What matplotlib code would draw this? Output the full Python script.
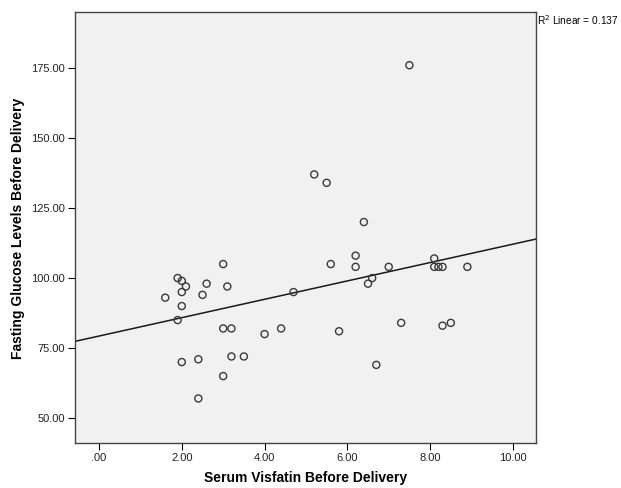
import matplotlib.pyplot as plt
import numpy as np

# data
visfatin = [3.0, 1.9, 2.0, 2.1, 2.6, 3.1, 2.0, 2.5, 1.6, 2.0, 4.7, 1.9,
            3.0, 3.2, 4.0, 4.4, 2.0, 2.4, 3.2, 3.5, 3.0, 2.4,
            7.5, 5.2, 5.5,
            6.4, 6.2, 5.6, 6.2, 7.0, 6.6, 6.5, 8.1, 8.1, 8.2, 8.3, 8.9,
            5.8, 7.3, 8.3, 8.5, 6.7]
glucose = [105, 100, 99, 97, 98, 97, 95, 94, 93, 90, 95, 85,
           82, 82, 80, 82, 70, 71, 72, 72, 65, 57,
           176, 137, 134,
           120, 108, 105, 104, 104, 100, 98, 107, 104, 104, 104, 104,
           81, 84, 83, 84, 69]
x_ticks = [0, 2, 4, 6, 8, 10]
y_ticks = [50, 75, 100, 125, 150, 175]
r2_label = 'R$^2$ Linear = 0.137'

plt.rcParams['font.family'] = ['Liberation Sans', 'DejaVu Sans']

fig = plt.figure(figsize=(6.21, 4.88), dpi=100)
ax = fig.add_axes([0.1208, 0.0922, 0.7424, 0.8832])
ax.set_facecolor('#f0f1f0')

# fit line across the whole x range
slope, icpt = np.polyfit(visfatin, glucose, 1)
xl = np.array([-0.6, 10.6])
ax.plot(xl, icpt + slope * xl, color='#1a1a1a', lw=1.1, zorder=2)

ax.scatter(visfatin, glucose, s=26, facecolors='none', edgecolors='#3a3a3a',
           linewidths=1.0, zorder=3)

ax.set_xlim(-0.58, 10.56)
ax.set_ylim(41.1, 195)
ax.set_xticks(x_ticks)
ax.set_xticklabels(['.00' if v == 0 else '%.2f' % v for v in x_ticks])
ax.set_yticks(y_ticks)
ax.set_yticklabels(['%.2f' % v for v in y_ticks])
ax.tick_params(labelsize=8, direction='out', length=5, pad=2, color='black', labelcolor='#222222')

for s in ax.spines.values():
    s.set_color('#444444')
    s.set_linewidth(1.0)

fig.text(305.5 / 621, 1 - 478 / 488, 'Serum Visfatin Before Delivery',
         fontsize=10, fontweight='bold', ha='center', va='center')
fig.text(18 / 621, 1 - 228 / 488, 'Fasting Glucose Levels Before Delivery',
         fontsize=10, fontweight='bold', ha='center', va='center', rotation=90)

fig.text(537 / 621, 1 - 20 / 488, r2_label, fontsize=7.3, va='center', ha='left')

fig.savefig('out.png', dpi=100)
